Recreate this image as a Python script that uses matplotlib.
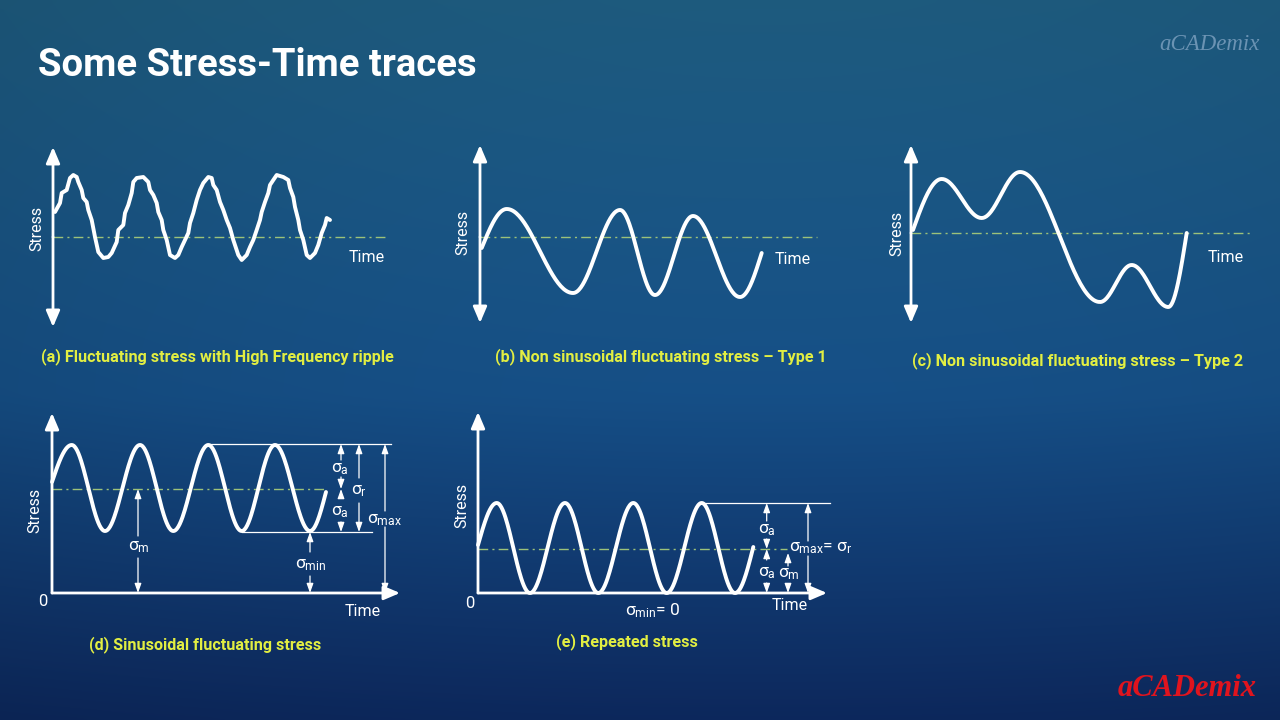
import numpy as np
import matplotlib
matplotlib.use("Agg")
import matplotlib.pyplot as plt

plt.rcParams['font.family'] = ['Roboto', 'DejaVu Sans']
plt.rcParams['mathtext.fontset'] = 'custom'
plt.rcParams['mathtext.rm'] = 'Roboto'
plt.rcParams['mathtext.it'] = 'Roboto:italic'
plt.rcParams['mathtext.bf'] = 'Roboto:bold'
plt.rcParams['mathtext.default'] = 'regular'

# ---------------- data (time, stress) ----------------
# (a) fluctuating stress with high-frequency ripple (mean = 0)
a_time = [2, 7, 8.7, 13.7, 17, 20.3, 23.7, 25.3, 28.7, 30.3, 33.7, 35.3, 38.7, 42, 45.3, 50.3,
          55.3, 58.7, 63.7, 65.3, 70.3, 72, 75.3, 78.7, 80.3, 83.7, 90.3, 95.3, 97, 100.3, 103.7,
          105.3, 108.7, 110.3, 113.7, 117, 122, 125.3, 128.7, 132, 135.3, 137, 140.3, 143.7, 147,
          150.3, 155.3, 158.7, 160.3, 163.7, 167, 170.3, 173.7, 177, 180.3, 185.3, 188.7, 193.7,
          197, 200.3, 203.7, 207, 208.7, 212, 215.3, 217, 220.3, 223.7, 230.3, 235.3, 237, 240.3,
          242, 245.3, 247, 250.3, 253.7, 257, 262, 265.3, 268.7, 272, 273.7, 277]
a_stress = [25, 34, 44, 47, 59, 62, 60, 55, 47, 39, 35, 27, 17, 0, -15, -21,
            -20, -16, -5, 7, 12, 24, 32, 44, 55, 59, 60, 55, 47, 42, 34,
            25, 17, 7, -3, -18, -21, -18, -10, -3, 4, 14, 24, 37, 47,
            54, 60, 59, 52, 47, 35, 27, 17, 9, -3, -18, -23, -18,
            -10, -3, 7, 17, 25, 35, 44, 52, 57, 62, 60, 57, 49, 40,
            30, 17, 7, -3, -18, -21, -16, -8, 4, 12, 19, 17]

# (b) non-sinusoidal type 1: start, extrema, end (mean = 0)
b_time = [1.7, 26.7, 93, 140, 175, 213, 260, 281.7]
b_stress = [-11, 28, -56, 27, -58, 21, -60, -16]

# (c) non-sinusoidal type 2 (mean = 0)
c_time = [2, 30.7, 70.7, 109, 189, 220.7, 257.3, 275.7]
c_stress = [3, 54, 15, 61, -69, -32, -74, 0]

# (d) sinusoidal fluctuating stress (zero = time axis)
d_time = [0, 19.7, 53, 88, 121.3, 156.3, 189.7, 223, 258, 274]
d_stress = [111, 148, 62, 148, 62, 148, 62, 148, 62, 101]
d_mean = 104
d_max = 149
d_min = 61

# (e) repeated stress
e_time = [0, 18.7, 52, 87, 120.3, 155.3, 188.7, 223.7, 257, 275.3]
e_stress = [48, 90, 0, 90, 0, 90, 0, 90, 0, 46]
e_mean = 44
e_max = 90
e_min = 0

captions = ["(a) Fluctuating stress with High Frequency ripple",
            "(b) Non sinusoidal fluctuating stress \u2013 Type 1",
            "(c) Non sinusoidal fluctuating stress \u2013 Type 2",
            "(d) Sinusoidal fluctuating stress",
            "(e) Repeated stress"]

# ---------------- styling ----------------
W, H = 1280, 720
WHITE = 'white'
CAP = '#e2ee42'
DASH = '#9cc27a'
CURVE_LW = 2.8
AX_LW = 2.0
SIG = 12.5

fig = plt.figure(figsize=(12.8, 7.2), dpi=100)

# background gradient
bg = fig.add_axes([0, 0, 1, 1])
bg.axis('off')
yy, xx = np.mgrid[0:1:180j, 0:1:320j]
c_top = np.array([30, 92, 128]) / 255
c_mid = np.array([22, 80, 136]) / 255
c_bot = np.array([14, 44, 102]) / 255
f1 = np.clip(yy / 0.55, 0, 1)[..., None]
f2 = np.clip((yy - 0.55) / 0.45, 0, 1)[..., None]
img = np.where(yy[..., None] < 0.55, c_top * (1 - f1) + c_mid * f1, c_mid * (1 - f2) + c_bot * f2)
vign = 1 - 0.22 * ((xx - 0.6) ** 2 * 1.0 + (yy - 0.3) ** 2 * 0.9)
img = np.clip(img * vign[..., None], 0, 1)
bg.imshow(img, extent=[0, 1, 0, 1], aspect='auto', interpolation='bicubic', origin='upper')
bg.set_xlim(0, 1)
bg.set_ylim(0, 1)


def panel(ox, oy, x0, x1, y0, y1):
    ax = fig.add_axes([x0 / W, 1 - y1 / H, (x1 - x0) / W, (y1 - y0) / H])
    ax.set_xlim(x0 - ox, x1 - ox)
    ax.set_ylim(oy - y1, oy - y0)
    ax.axis('off')
    ax.patch.set_alpha(0)
    return ax


def smooth(ts, ss, n=50):
    xs, ys = [], []
    m = len(ts) - 1
    for i in range(m):
        u = np.linspace(0, 1, n)
        t0, t1, s0, s1 = ts[i], ts[i + 1], ss[i], ss[i + 1]
        if i == 0:
            g = np.sin(np.pi / 2 * u)
        elif i == m - 1:
            g = 1 - np.cos(np.pi / 2 * u)
        else:
            g = (1 - np.cos(np.pi * u)) / 2
        xs.append(t0 + (t1 - t0) * u)
        ys.append(s0 + (s1 - s0) * g)
    return np.concatenate(xs), np.concatenate(ys)


def big_arrow(ax, tail, tip):
    ax.annotate('', xy=tip, xytext=tail,
                arrowprops=dict(arrowstyle='-|>,head_length=0.75,head_width=0.32',
                                color=WHITE, lw=AX_LW, mutation_scale=13,
                                shrinkA=0, shrinkB=0), annotation_clip=False)


def small_arrow(ax, t, s_from, s_to):
    ax.annotate('', xy=(t, s_to), xytext=(t, s_from),
                arrowprops=dict(arrowstyle='-|>,head_length=0.7,head_width=0.25',
                                color=WHITE, lw=0.9, mutation_scale=8,
                                shrinkA=0, shrinkB=0), annotation_clip=False)


def gap_arrow(ax, t, s_top, s_bot, g_top, g_bot):
    small_arrow(ax, t, g_top, s_top)
    small_arrow(ax, t, g_bot, s_bot)


def trace(ax, x, y):
    ax.plot(x, y, color=WHITE, lw=CURVE_LW, solid_joinstyle='round',
            solid_capstyle='round', clip_on=False, zorder=3)


def mean_line(ax, s, t_end):
    ax.plot([0, t_end], [s, s], color=DASH, lw=1.0, ls=(0, (7, 3, 1.5, 3)),
            clip_on=False, zorder=2)


def lbl(ax, t, s, txt, size=11.5, **kw):
    ax.text(t, s, txt, color=WHITE, fontsize=size, ha='center', va='center', **kw)


# ---------------- panel (a) ----------------
ax = panel(53, 237, 20, 420, 135, 340)
big_arrow(ax, (0, 0), (0, 90))
big_arrow(ax, (0, 0), (0, -90))
mean_line(ax, 0, 334)
trace(ax, a_time, a_stress)
lbl(ax, 314, -20, 'Time')
lbl(ax, -16, 9, 'Stress', rotation=90)

# ---------------- panel (b) ----------------
ax = panel(480, 237, 445, 850, 135, 340)
big_arrow(ax, (0, 0), (0, 92))
big_arrow(ax, (0, 0), (0, -86))
mean_line(ax, 0, 337)
trace(ax, *smooth(b_time, b_stress))
lbl(ax, 313, -22, 'Time')
lbl(ax, -17, 5, 'Stress', rotation=90)

# ---------------- panel (c) ----------------
ax = panel(911, 233, 875, 1275, 135, 340)
big_arrow(ax, (0, 0), (0, 88))
big_arrow(ax, (0, 0), (0, -90))
mean_line(ax, 0, 339)
trace(ax, *smooth(c_time, c_stress))
lbl(ax, 315, -24, 'Time')
lbl(ax, -14, 0, 'Stress', rotation=90)

# ---------------- panel (d) ----------------
ax = panel(52, 593, 20, 420, 400, 625)
big_arrow(ax, (0, 0), (0, 180))
big_arrow(ax, (0, 0), (348, 0))
mean_line(ax, d_mean, 275)
trace(ax, *smooth(d_time, d_stress))
ax.plot([155, 339], [d_max, d_max], color=WHITE, lw=0.9, clip_on=False)
ax.plot([190, 320], [d_min, d_min], color=WHITE, lw=0.9, clip_on=False)
gap_arrow(ax, 289, d_max, d_mean, 133, 116)
gap_arrow(ax, 289, d_mean, d_min, 96, 71)
gap_arrow(ax, 307, d_max, d_min, 115, 90)
gap_arrow(ax, 333, d_max, 0, 82, 66)
gap_arrow(ax, 86, d_mean, 0, 57, 35)
gap_arrow(ax, 258, d_min, 0, 41, 17)
lbl(ax, 288, 124, r'$σ_{a}$', SIG)
lbl(ax, 288, 81, r'$σ_{a}$', SIG)
lbl(ax, 307, 102, r'$σ_{r}$', SIG)
lbl(ax, 333, 73, r'$σ_{max}$', SIG)
lbl(ax, 87, 46, r'$σ_{m}$', SIG)
lbl(ax, 259, 28, r'$σ_{min}$', SIG)
lbl(ax, -9.5, -9, '0', 12)
lbl(ax, 311, -18, 'Time')
lbl(ax, -17, 83, 'Stress', rotation=90)

# ---------------- panel (e) ----------------
ax = panel(478, 593, 445, 860, 400, 625)
big_arrow(ax, (0, 0), (0, 181))
big_arrow(ax, (0, 0), (349, 0))
mean_line(ax, e_mean, 309)
trace(ax, *smooth(e_time, e_stress))
ax.plot([223.7, 352], [e_max, e_max], color=WHITE, lw=0.9, clip_on=False)
gap_arrow(ax, 288.7, e_max, e_mean, 72, 54)
gap_arrow(ax, 288.7, e_mean, e_min, 33, 10)
gap_arrow(ax, 310, 40, e_min, 27, 9)
gap_arrow(ax, 330, e_max, e_min, 52, 37)
lbl(ax, 289, 63, r'$σ_{a}$', SIG)
lbl(ax, 289, 20, r'$σ_{a}$', SIG)
lbl(ax, 311, 19, r'$σ_{m}$', SIG)
ax.text(311, 45, r'$σ_{max}$= $σ_{r}$', color=WHITE, fontsize=SIG, ha='left', va='center')
lbl(ax, 175, -18, r'$σ_{min}$= 0', SIG)
lbl(ax, -8, -10, '0', 12)
lbl(ax, 312, -13, 'Time')
lbl(ax, -16, 88, 'Stress', rotation=90)

# ---------------- titles / captions ----------------
fig.text(38 / W, 1 - 65 / H, 'Some Stress-Time traces', color=WHITE, fontsize=27.5,
         fontweight='bold', ha='left', va='center')
cap_pos = [(217, 357), (661, 357), (1078, 361), (205, 645), (627, 642)]
for (x, y), c in zip(cap_pos, captions):
    fig.text(x / W, 1 - y / H, c, color=CAP, fontsize=11.6, fontweight='bold',
             ha='center', va='center')

fig.text(1260 / W, 1 - 44 / H, 'aCADemix', family='Liberation Serif', style='italic',
         fontsize=16.5, color='#6b93b3', ha='right', va='center')
fig.text(1257 / W, 1 - 688 / H, 'aCADemix', family='Liberation Serif', style='italic',
         fontweight='bold', fontsize=22, color='#e0141e', ha='right', va='center')

fig.savefig('out.png', dpi=100)
